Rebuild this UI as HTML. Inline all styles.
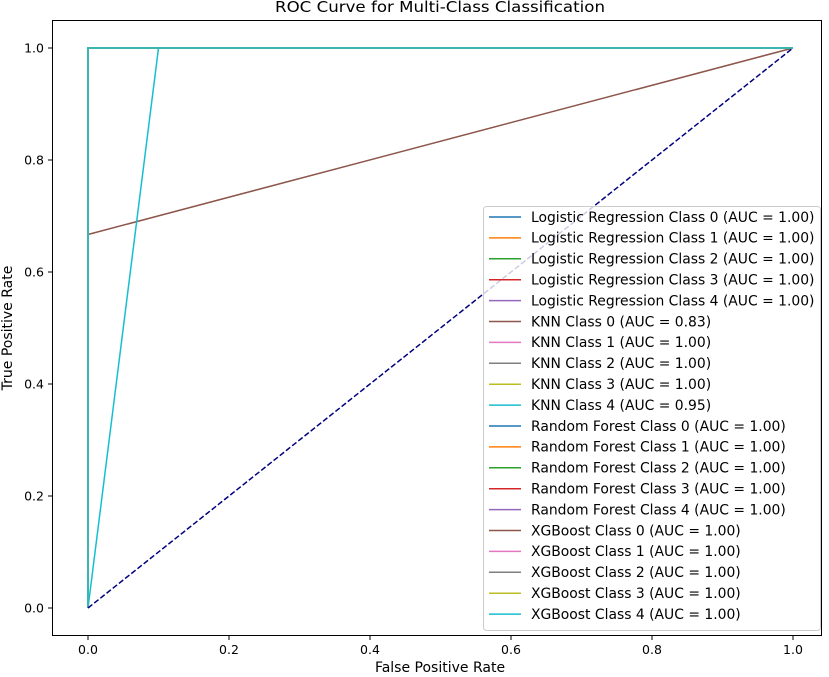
<!DOCTYPE html>
<html><head><meta charset="utf-8"><style>
body{margin:0;background:#fff;}
svg{display:block;font-family:"DejaVu Sans","Liberation Sans",sans-serif;}
</style></head><body>
<svg id="chart" width="829" height="677" viewBox="0 0 829 677">
<rect x="0" y="0" width="829" height="677" fill="#fff"/>
<text x="440" y="12" text-anchor="middle" font-size="15" textLength="330" lengthAdjust="spacingAndGlyphs">ROC Curve for Multi-Class Classification</text>
<g id="ticks"></g>
<g id="curves"></g>
<rect x="52.5" y="20.5" width="769" height="615" fill="none" stroke="#000" stroke-width="1"/>
<text x="440" y="672" text-anchor="middle" font-size="14">False Positive Rate</text>
<text transform="translate(12,328) rotate(-90)" text-anchor="middle" font-size="14">True Positive Rate</text>
<g id="legend"></g>
</svg>
<script>
const ticks=[0,0.2,0.4,0.6,0.8,1.0];
const tickLabels=["0.0","0.2","0.4","0.6","0.8","1.0"];
const seriesNames=["Logistic Regression Class 0","Logistic Regression Class 1","Logistic Regression Class 2","Logistic Regression Class 3","Logistic Regression Class 4","KNN Class 0","KNN Class 1","KNN Class 2","KNN Class 3","KNN Class 4","Random Forest Class 0","Random Forest Class 1","Random Forest Class 2","Random Forest Class 3","Random Forest Class 4","XGBoost Class 0","XGBoost Class 1","XGBoost Class 2","XGBoost Class 3","XGBoost Class 4"];
const aucValues=[1.00,1.00,1.00,1.00,1.00,0.83,1.00,1.00,1.00,0.95,1.00,1.00,1.00,1.00,1.00,1.00,1.00,1.00,1.00,1.00];
const fprValues=[[0,0,1],[0,0,1],[0,0,1],[0,0,1],[0,0,1],[0,0,1],[0,0,1],[0,0,1],[0,0,1],[0,0.1,1],[0,0,1],[0,0,1],[0,0,1],[0,0,1],[0,0,1],[0,0,1],[0,0,1],[0,0,1],[0,0,1],[0,0,1]];
const tprValues=[[0,1,1],[0,1,1],[0,1,1],[0,1,1],[0,1,1],[0,0.667,1],[0,1,1],[0,1,1],[0,1,1],[0,1,1],[0,1,1],[0,1,1],[0,1,1],[0,1,1],[0,1,1],[0,1,1],[0,1,1],[0,1,1],[0,1,1],[0,1,1]];
const colors=["#1f77b4","#ff7f0e","#2ca02c","#d62728","#9467bd","#8c564b","#e377c2","#7f7f7f","#bcbd22","#17becf"];
const NS="http://www.w3.org/2000/svg";
const sx=v=>88+v*705, sy=v=>608-v*560;
function mk(t,a,p){const e=document.createElementNS(NS,t);for(const k in a)e.setAttribute(k,a[k]);p.appendChild(e);return e;}
const tg=document.getElementById('ticks');
ticks.forEach((t,i)=>{
 const l=mk('line',{x1:sx(t),x2:sx(t),y1:636,y2:640,stroke:'#000'},tg);
 
 
 const tx=mk('text',{x:sx(t),y:654,'text-anchor':'middle','font-size':12.5},tg);tx.textContent=tickLabels[i];
 
 
 const l2=mk('line',{x1:48,x2:52,y1:sy(t),y2:sy(t),stroke:'#000'},tg);
 
 
 const ty=mk('text',{x:44,y:sy(t)+4.5,'text-anchor':'end','font-size':12.5},tg);ty.textContent=tickLabels[i];
 
 
});
const cg=document.getElementById('curves');
seriesNames.forEach((n,i)=>{
 const pts=fprValues[i].map((f,j)=>sx(f)+','+sy(tprValues[i][j])).join(' ');
 const p=mk('polyline',{points:pts,fill:'none',stroke:colors[i%10],'stroke-width':1.5},cg);
 
 
});
const d=mk('line',{x1:sx(0),y1:sy(0),x2:sx(1),y2:sy(1),stroke:'#000080','stroke-width':1.5,'stroke-dasharray':'5.5,2.4'},cg);


const lg=document.getElementById('legend');
const box=mk('rect',{x:483.5,y:206.5,width:337,height:424,rx:3,fill:'#fff','fill-opacity':0.8,stroke:'#ccc'},lg);


seriesNames.forEach((n,i)=>{
 const y=217+i*20.9;
 const g=mk('g',{},lg);
 
 
 mk('line',{x1:489,x2:521,y1:y,y2:y,stroke:colors[i%10],'stroke-width':1.5},g);
 const t=mk('text',{x:531,y:y+4.8,'font-size':13.9},g);
 t.textContent=n+' (AUC = '+aucValues[i].toFixed(2)+')';
});
</script>
</body></html>
